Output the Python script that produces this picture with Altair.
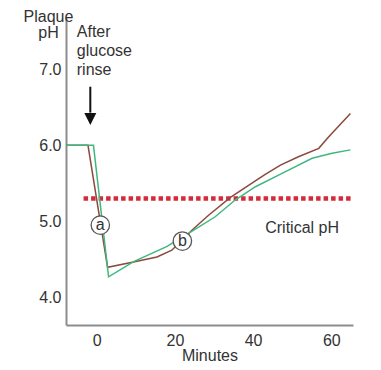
import altair as alt
import pandas as pd

# ---- data ----
brown_x = [-7.88, -2.25, 2.76, 9.4, 15.4, 19.2, 24.4, 28.6, 34.2, 42.9, 47.0, 51.6, 56.8, 59.3, 64.9]
brown_y = [6.0, 6.0, 4.395, 4.465, 4.53, 4.62, 4.885, 5.08, 5.315, 5.61, 5.74, 5.85, 5.96, 6.11, 6.42]

green_x = [-7.88, -0.85, 3.02, 9.42, 18.0, 19.2, 24.4, 30.3, 35.4, 40.6, 47.4, 55.1, 60.2, 64.9]
green_y = [6.0, 6.0, 4.27, 4.47, 4.67, 4.71, 4.87, 5.06, 5.28, 5.455, 5.63, 5.83, 5.895, 5.94]

x_ticks = [0, 20, 40, 60]
y_ticks = [4.0, 5.0, 6.0, 7.0]
x_domain = [-7.88, 65.56]
y_domain = [3.636, 7.675]

critical_ph = 5.30
critical_x = [-3.38, 65.56]
critical_label = "Critical pH"
critical_label_pos = [43.1, 4.846]

circle_labels = ["a", "b"]
circle_x = [0.9, 21.9]
circle_y = [4.95, 4.74]

rinse_text = ["After", "glucose", "rinse"]
rinse_pos = [-5.12, 7.425]
arrow_x = -1.66
arrow_y = [6.771, 6.43]
arrow_head_y = 6.346

series_names = ["brown", "green"]
series_colors = ["#8a4a3c", "#3fb87f"]

# ---- tables ----
rows = []
for i, (x, y) in enumerate(zip(brown_x, brown_y)):
    rows.append({"x": x, "y": y, "series": "brown", "i": i})
for i, (x, y) in enumerate(zip(green_x, green_y)):
    rows.append({"x": x, "y": y, "series": "green", "i": i})
lines_df = pd.DataFrame(rows)

crit_df = pd.DataFrame({"x": [critical_x[0]], "x2": [critical_x[1]], "y": [critical_ph]})
crit_text_df = pd.DataFrame({"x": [critical_label_pos[0]], "y": [critical_label_pos[1]], "t": [critical_label]})
circ_df = pd.DataFrame({"x": circle_x, "y": circle_y, "t": circle_labels})
rinse_df = pd.DataFrame({"x": [rinse_pos[0]], "y": [rinse_pos[1]], "t": ["\n".join(rinse_text)]})
arrow_df = pd.DataFrame({"x": [arrow_x], "y": [arrow_y[0]], "y2": [arrow_y[1]]})
head_df = pd.DataFrame({"x": [arrow_x], "y": [arrow_head_y]})

xs = alt.Scale(domain=x_domain, nice=False, zero=False)
ys = alt.Scale(domain=y_domain, nice=False, zero=False)

x_axis = alt.Axis(values=x_ticks, ticks=False, grid=False, domainColor="#8c8c8c", domainWidth=2,
                  labelPadding=7, labelFontSize=16, labelColor="#333333",
                  title="Minutes", titleFontSize=16, titleFontWeight="normal", titleColor="#333333",
                  titleBaseline="alphabetic", titleY=35)
y_axis = alt.Axis(values=y_ticks, format=".1f", ticks=False, grid=False, domainColor="#8c8c8c", domainWidth=2,
                  labelPadding=5, labelFontSize=16, labelColor="#333333",
                  title=["Plaque", "pH"], titleAngle=0, titleAlign="center", titleBaseline="alphabetic",
                  titleX=-18, titleY=3, titleLineHeight=16, titleFontSize=16, titleFontWeight="normal",
                  titleColor="#333333")


def X(field="x"):
    return alt.X(f"{field}:Q", scale=xs, axis=x_axis)


def Y(field="y"):
    return alt.Y(f"{field}:Q", scale=ys, axis=y_axis)


crit = alt.Chart(crit_df).mark_rule(color="#d42a3a", strokeWidth=4.5, strokeDash=[4.5, 3], strokeCap="butt").encode(
    x=X(), x2="x2:Q", y=Y())

lines = alt.Chart(lines_df).mark_line(strokeWidth=1.5).encode(
    x=X(), y=Y(),
    color=alt.Color("series:N", scale=alt.Scale(domain=series_names, range=series_colors), legend=None),
    order="i:Q")

circles = alt.Chart(circ_df).mark_point(shape="circle", size=340, filled=True, fill="white",
                                         stroke="#555555", strokeWidth=1.3, opacity=1).encode(
    x=X(), y=Y())

circle_text = alt.Chart(circ_df).mark_text(fontSize=16, color="#333333", align="center", baseline="middle", dy=0).encode(
    x=X(), y=Y(), text="t:N")

crit_text = alt.Chart(crit_text_df).mark_text(fontSize=16, color="#333333", align="left", baseline="alphabetic").encode(
    x=X(), y=Y(), text="t:N")

rinse = alt.Chart(rinse_df).mark_text(fontSize=16, color="#333333", align="left", baseline="alphabetic",
                                       lineBreak="\n", lineHeight=19).encode(
    x=X(), y=Y(), text="t:N")

arrow = alt.Chart(arrow_df).mark_rule(color="#111111", strokeWidth=2).encode(
    x=X(), y=Y(), y2="y2:Q")

head = alt.Chart(head_df).mark_point(shape="M-1,-1L1,-1L0,1Z", size=144, filled=True, color="#111111", opacity=1).encode(
    x=X(), y=Y())

chart = alt.layer(crit, lines, circles, circle_text, crit_text, rinse, arrow, head).properties(
    width=287, height=307,
    autosize=alt.AutoSizeParams(type="none"),
    padding={"left": 58, "top": 10, "right": 20, "bottom": 37},
).configure(font="Liberation Sans", view=alt.ViewConfig(stroke=None))

chart.save("out.html", embed_options={"renderer": "svg", "actions": False})
